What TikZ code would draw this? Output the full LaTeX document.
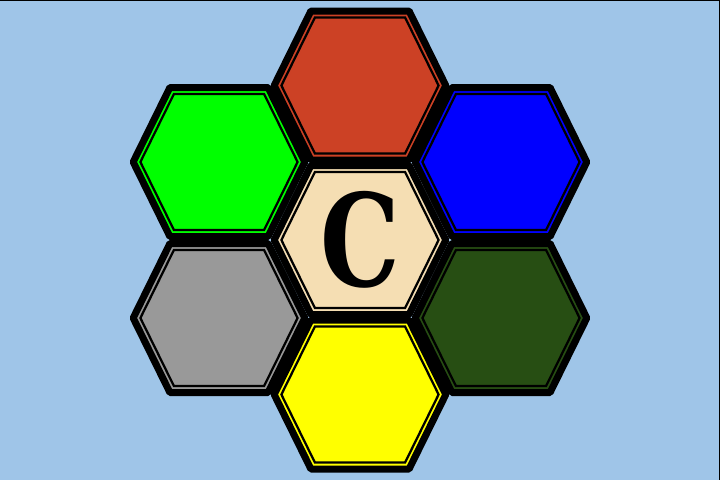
\documentclass[tikz,border=0pt]{standalone}
\usepackage{fontspec}
\usepackage{xcolor}
\usepackage{tikz}
\newfontfamily\letterfont{DejaVu Serif}
\definecolor{skycolor}{HTML}{9FC5E8}
\definecolor{cellred}{HTML}{CC4125}
\definecolor{cellgreen}{HTML}{00FF00}
\definecolor{cellblue}{HTML}{0000FF}
\definecolor{cellwheat}{HTML}{F5DEB3}
\definecolor{cellgray}{HTML}{999999}
\definecolor{cellforest}{HTML}{274E13}
\definecolor{cellyellow}{HTML}{FFFF00}

\begin{document}
\begin{tikzpicture}[
    rim/.style={draw=black, line width=0.14cm, line join=round},
    inner rim/.style={draw=black, line width=0.045cm}]
  % Scale: 1cm = 50px
  \def\hexR{1.716} \def\hexA{0.982} \def\hexH{1.49}
  \def\inR{1.572}  \def\inA{0.902}  \def\inH{1.36}

  % Background
  \useasboundingbox (-7.2,-4.8) rectangle (7.2,4.8);
  \fill[skycolor] (-7.2,-4.8) rectangle (7.2,4.8);
  \draw[black, line width=0.04cm] (-7.2,4.8) -- (7.2,4.8) -- (7.2,-4.8);

  % Hexagon cells (x / y / colour)
  \foreach \cx/\cy/\col in {0/3.09/cellred, -2.82/1.56/cellgreen, 2.82/1.56/cellblue,
      0/0/cellwheat, -2.82/-1.56/cellgray, 2.82/-1.56/cellforest, 0/-3.09/cellyellow} {
    \begin{scope}[shift={(\cx,\cy)}]
      \filldraw[rim, fill=\col] (\hexR,0) -- (\hexA,\hexH) -- (-\hexA,\hexH)
        -- (-\hexR,0) -- (-\hexA,-\hexH) -- (\hexA,-\hexH) -- cycle;
      \draw[inner rim] (\inR,0) -- (\inA,\inH) -- (-\inA,\inH)
        -- (-\inR,0) -- (-\inA,-\inH) -- (\inA,-\inH) -- cycle;
    \end{scope}
  }

  % Centre letter
  \node (letter) at (0,0) {\scalebox{0.78}[1]{\letterfont\bfseries\fontsize{73}{73}\selectfont C}};

\end{tikzpicture}
\end{document}
